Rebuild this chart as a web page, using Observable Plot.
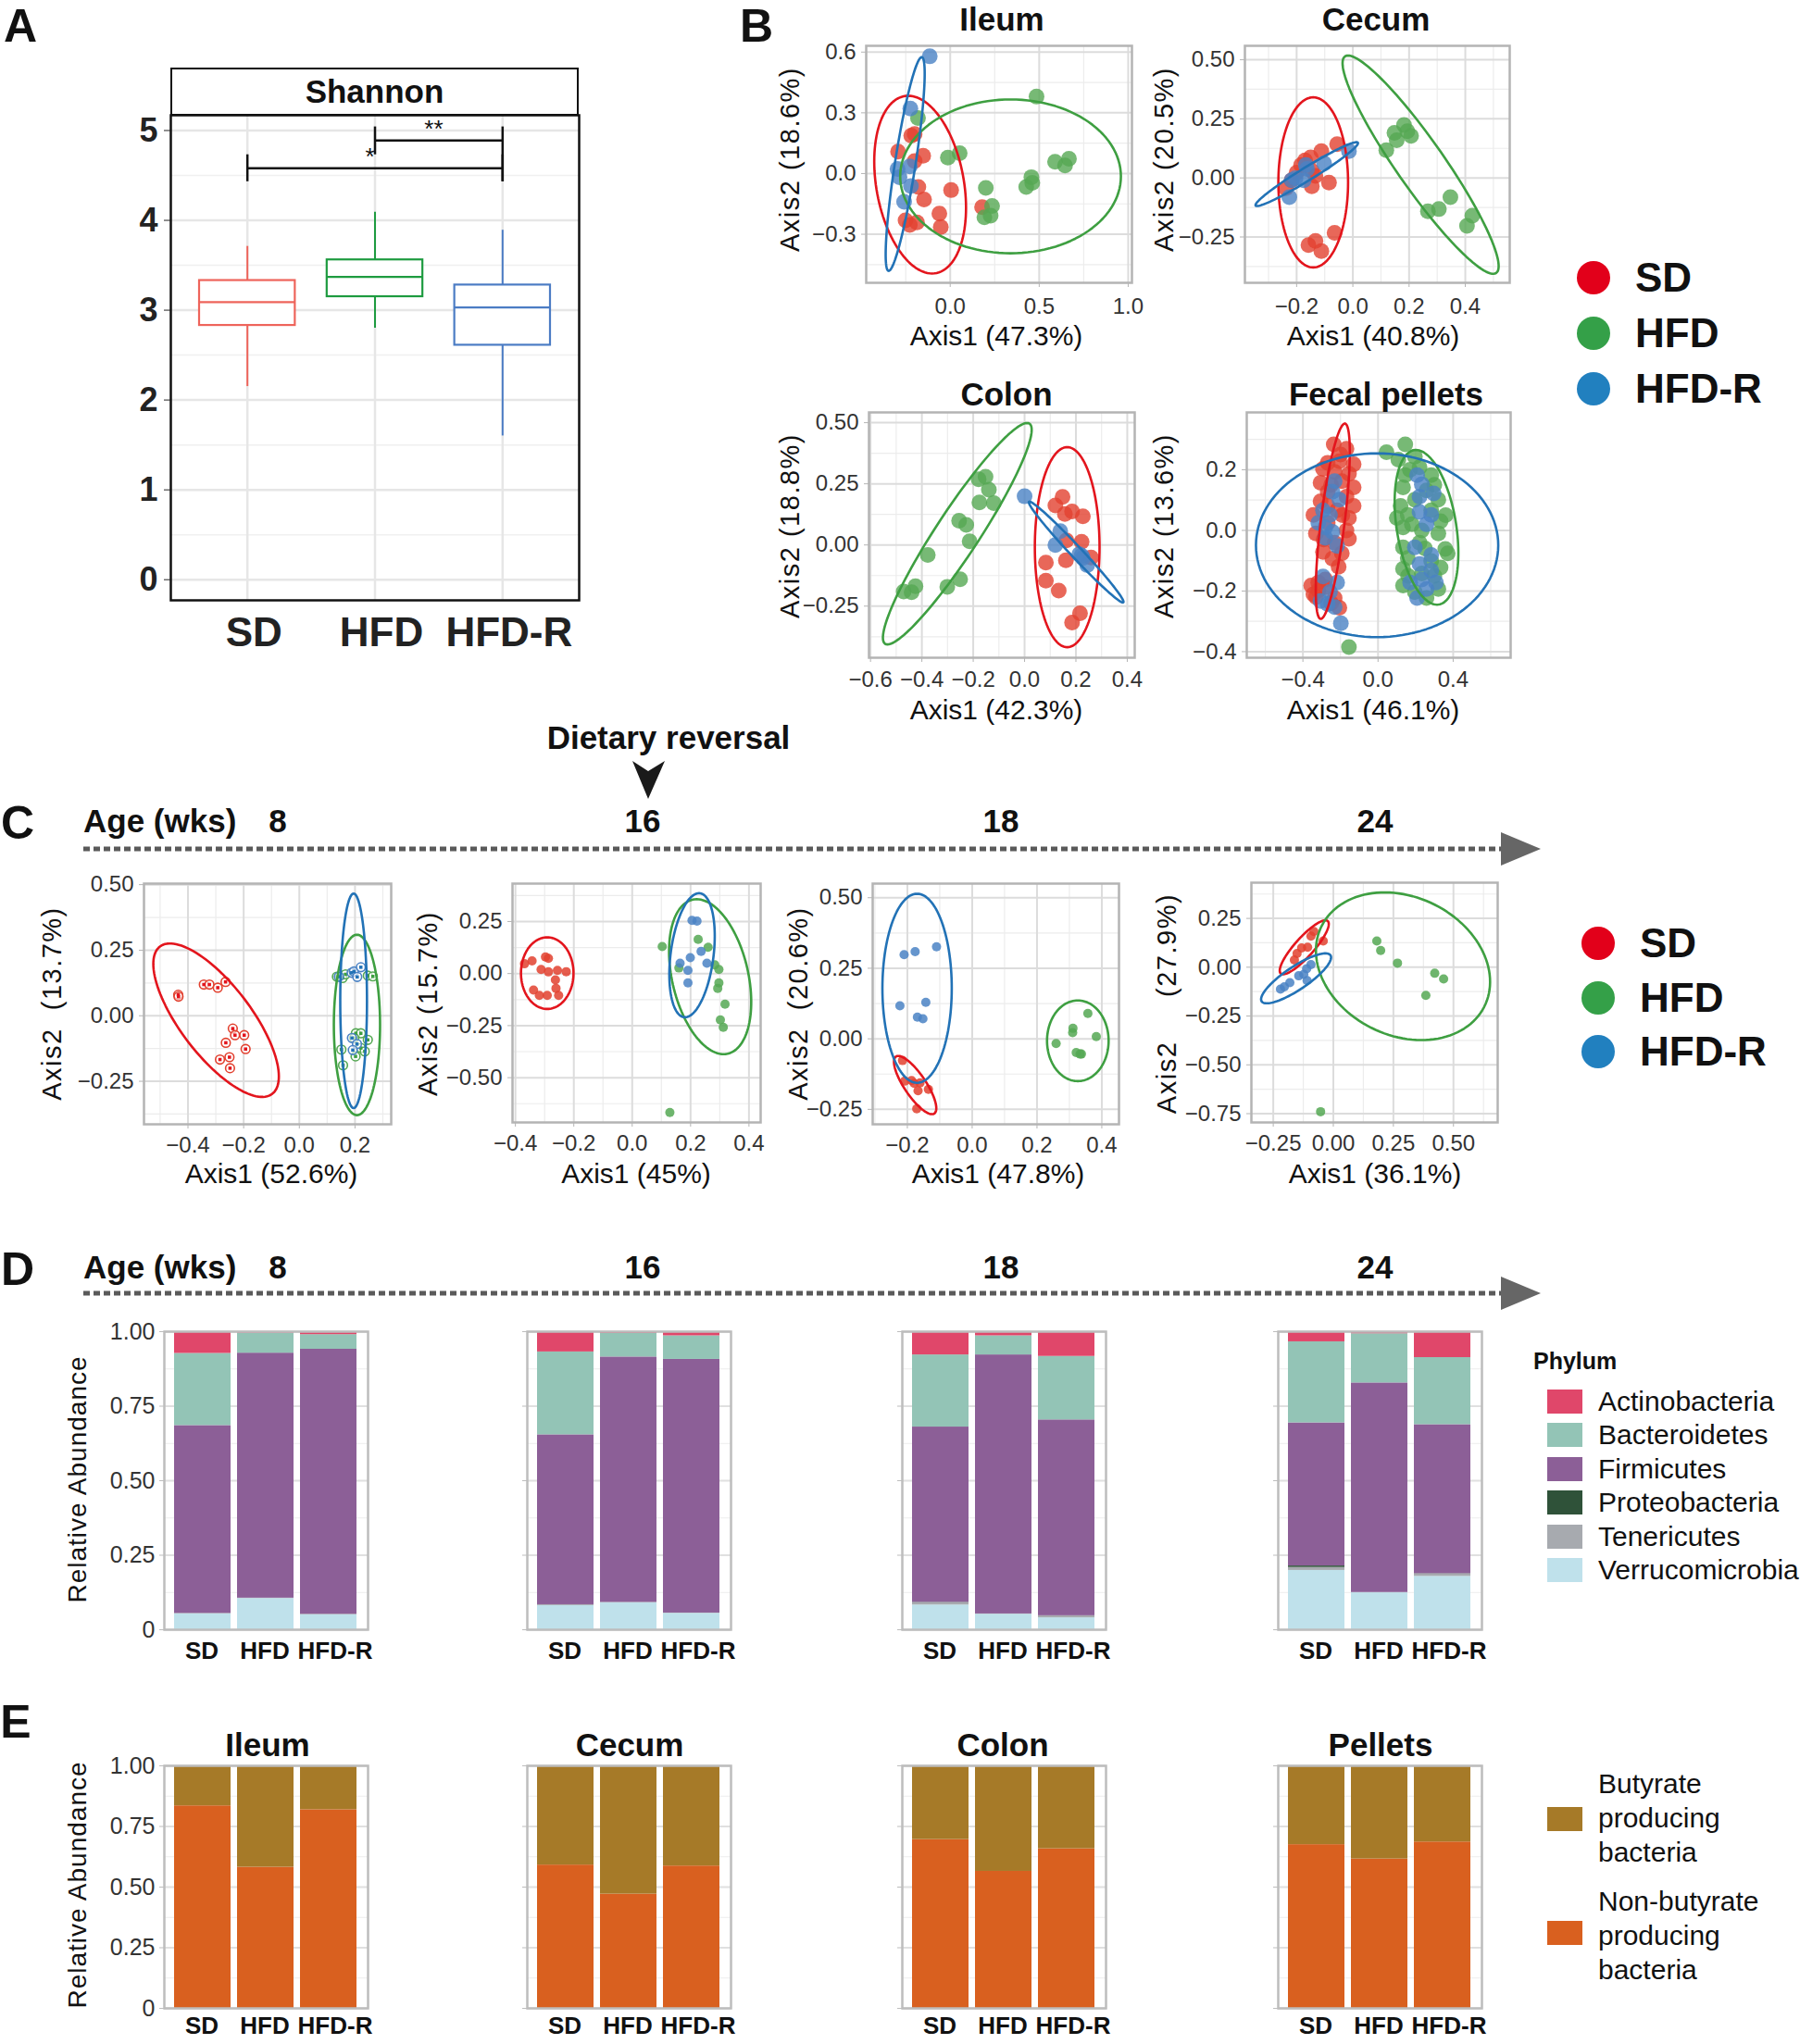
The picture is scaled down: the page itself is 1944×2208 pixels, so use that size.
<!DOCTYPE html>
<html><head><meta charset="utf-8">
<script src="https://cdn.jsdelivr.net/npm/d3@7"></script>
<script src="https://cdn.jsdelivr.net/npm/@observablehq/plot@0.6"></script>
<style>
html,body{margin:0;padding:0;background:#fff;}
#root{position:relative;width:1944px;height:2208px;overflow:hidden;background:#fff;font-family:"Liberation Sans",Arial,Helvetica,sans-serif;color:#111;}
.t{position:absolute;white-space:pre;line-height:1;}
</style></head><body><div id="root"></div>
<script>
// ---------------- DATA ----------------
const diets = ["SD", "HFD", "HFD-R"];

// Panel A: Shannon diversity boxplot
const shannonMin    = [2.15, 2.80, 1.60];
const shannonQ1     = [2.83, 3.15, 2.61];
const shannonMedian = [3.09, 3.37, 3.03];
const shannonQ3     = [3.33, 3.56, 3.28];
const shannonMax    = [3.71, 4.09, 3.89];
const sigFrom   = ["HFD", "SD"];
const sigTo     = ["HFD-R", "HFD-R"];
const sigY      = [4.89, 4.58];
const sigTop    = [5.04, 4.73];
const sigLeftBottom  = [4.73, 4.43];
const sigRightBottom = [4.43, 4.43];
const sigLabel  = ["**", "*"];

// Panel B: PCoA by gut site (Axis1, Axis2)
const ileumSD = [[-0.219,0.187],[-0.200,0.195],[-0.293,0.108],[-0.152,0.088],[-0.200,0.062],[-0.179,-0.067],[-0.147,-0.128],[0.005,-0.082],[0.179,-0.166],[-0.061,-0.198],[-0.053,-0.264],[-0.251,-0.231],[-0.227,-0.254],[-0.187,-0.242]];
const ileumHFD = [[-0.181,0.274],[0.485,0.380],[-0.013,0.079],[0.053,0.100],[0.200,-0.071],[0.235,-0.160],[0.192,-0.216],[0.227,-0.208],[0.427,-0.067],[0.461,-0.046],[0.456,-0.018],[0.589,0.058],[0.667,0.073],[0.645,0.040]];
const ileumHFDR = [[-0.115,0.579],[-0.224,0.321],[-0.296,0.023],[-0.285,-0.018],[-0.227,0.035],[-0.221,-0.062],[-0.259,-0.140]];
const ileumEllipses = [
  {group:"SD", cx:-0.169, cy:-0.055, ax:-0.067, ay:0.439, bx:0.249, by:0},
  {group:"HFD", cx:0.339, cy:-0.014, ax:0, ay:0.380, bx:0.62, by:0},
  {group:"HFD-R", cx:-0.253, cy:0.047, ax:0.093, ay:0.528, bx:0.058, by:-0.003}];

const cecumSD = [[-0.238,-0.043],[-0.218,-0.010],[-0.184,0.055],[-0.170,0.074],[-0.150,0.087],[-0.112,0.113],[-0.056,0.143],[-0.145,0.029],[-0.133,0.009],[-0.146,-0.036],[-0.085,-0.020],[-0.158,-0.284],[-0.133,-0.267],[-0.112,-0.310],[-0.065,-0.232],[-0.200,0.022]];
const cecumHFD = [[0.119,0.117],[0.156,0.159],[0.148,0.191],[0.182,0.224],[0.194,0.198],[0.207,0.178],[0.347,-0.082],[0.306,-0.132],[0.267,-0.141],[0.425,-0.160],[0.406,-0.203]];
const cecumHFDR = [[-0.218,-0.010],[-0.204,-0.001],[-0.226,-0.082],[-0.163,0.038],[-0.102,0.061],[-0.014,0.113],[-0.167,0.055],[-0.175,-0.010]];
const cecumEllipses = [
  {group:"SD", cx:-0.141, cy:-0.019, ax:0, ay:0.360, bx:0.124, by:0},
  {group:"HFD", cx:0.241, cy:0.056, ax:-0.264, ay:0.461, bx:0.086, by:0.029},
  {group:"HFD-R", cx:-0.164, cy:0.016, ax:0.181, ay:0.134, bx:0.021, by:-0.017}];

const colonSD = [[0.148,0.197],[0.120,0.162],[0.157,0.127],[0.185,0.137],[0.227,0.117],[0.222,0.013],[0.163,0.019],[0.259,-0.051],[0.083,-0.072],[0.161,-0.063],[0.083,-0.146],[0.133,-0.187],[0.216,-0.279],[0.185,-0.317]];
const colonHFD = [[-0.179,0.269],[-0.152,0.279],[-0.139,0.226],[-0.176,0.174],[-0.120,0.171],[-0.255,0.099],[-0.227,0.082],[-0.214,0.015],[-0.377,-0.041],[-0.251,-0.140],[-0.301,-0.171],[-0.425,-0.169],[-0.471,-0.190],[-0.440,-0.193]];
const colonHFDR = [[0.000,0.199],[0.139,0.057],[0.120,0.000],[0.213,-0.038],[0.227,-0.053],[0.244,-0.082],[0.222,-0.044]];
const colonEllipses = [
  {group:"SD", cx:0.166, cy:-0.009, ax:0, ay:0.409, bx:0.126, by:0},
  {group:"HFD", cx:-0.262, cy:0.046, ax:0.277, ay:0.452, bx:0.085, by:-0.025},
  {group:"HFD-R", cx:0.201, cy:-0.029, ax:0.183, ay:-0.206, bx:0.022, by:0.009}];

const fecalSD = [[-0.236,0.284],[-0.168,0.269],[-0.268,0.223],[-0.206,0.228],[-0.130,0.218],[-0.293,0.203],[-0.231,0.193],[-0.155,0.187],[-0.306,0.157],[-0.193,0.162],[-0.130,0.142],[-0.268,0.127],[-0.168,0.111],[-0.306,0.096],[-0.130,0.081],[-0.218,0.066],[-0.344,0.051],[-0.155,0.041],[-0.268,0.025],[-0.331,-0.010],[-0.155,-0.028],[-0.231,-0.041],[-0.293,-0.071],[-0.193,-0.076],[-0.243,-0.093],[-0.356,-0.182],[-0.318,-0.198],[-0.344,-0.211],[-0.281,-0.187],[-0.231,-0.223],[-0.206,-0.255],[-0.281,-0.162],[-0.318,-0.172],[-0.168,0.000],[-0.268,0.081],[-0.200,0.250],[-0.250,0.150],[-0.190,0.050],[-0.290,-0.030],[-0.210,-0.120],[-0.330,-0.220],[-0.250,-0.240]];
const fecalHFD = [[0.045,0.258],[0.145,0.284],[0.108,0.233],[0.196,0.243],[0.145,0.182],[0.221,0.208],[0.283,0.182],[0.133,0.142],[0.258,0.132],[0.196,0.101],[0.321,0.101],[0.120,0.081],[0.283,0.066],[0.158,0.051],[0.333,0.030],[0.133,0.010],[0.233,0.000],[0.321,-0.010],[0.133,-0.056],[0.221,-0.041],[0.371,-0.076],[0.158,-0.091],[0.283,-0.101],[0.133,-0.127],[0.233,-0.142],[0.333,-0.122],[0.133,-0.182],[0.196,-0.203],[0.321,-0.193],[0.258,-0.223],[0.358,-0.061],[0.100,0.041],[-0.155,-0.385],[0.170,0.200],[0.300,0.150],[0.180,0.020],[0.360,0.050],[0.250,-0.060],[0.160,-0.150],[0.300,-0.150]];
const fecalHFDR = [[-0.231,0.162],[-0.243,0.127],[-0.206,0.101],[-0.293,0.066],[-0.256,0.051],[-0.318,0.025],[-0.281,0.010],[-0.243,-0.005],[-0.281,-0.025],[-0.218,-0.051],[-0.293,-0.152],[-0.218,-0.172],[-0.256,-0.203],[-0.306,-0.233],[-0.231,-0.253],[-0.198,-0.306],[-0.268,-0.243],[0.208,0.182],[0.233,0.152],[0.221,0.111],[0.296,0.122],[0.221,0.061],[0.283,0.051],[0.258,0.020],[0.196,-0.056],[0.283,-0.081],[0.221,-0.111],[0.283,-0.132],[0.233,-0.162],[0.308,-0.172],[0.258,-0.193],[0.208,-0.223],[0.171,-0.172]];
const fecalEllipses = [
  {group:"SD", cx:-0.241, cy:0.030, ax:0.065, ay:0.322, bx:0.063, by:-0.005},
  {group:"HFD", cx:0.258, cy:0.010, ax:-0.056, ay:0.255, bx:0.160, by:0},
  {group:"HFD-R", cx:-0.005, cy:-0.049, ax:0, ay:0.303, bx:0.645, by:0}];

// Panel C: PCoA over age (8, 16, 18, 24 wks)
const ages = [8, 16, 18, 24];
const wk8SD = [[-0.435,0.080],[-0.434,0.073],[-0.343,0.119],[-0.323,0.119],[-0.293,0.107],[-0.265,0.129],[-0.239,-0.049],[-0.231,-0.074],[-0.198,-0.074],[-0.264,-0.103],[-0.193,-0.127],[-0.285,-0.167],[-0.251,-0.158],[-0.249,-0.200]];
const wk8HFD = [[0.135,0.149],[0.155,0.144],[0.166,0.158],[0.246,0.153],[0.264,0.150],[0.203,-0.067],[0.221,-0.067],[0.197,-0.085],[0.246,-0.092],[0.151,-0.129],[0.157,-0.189],[0.221,-0.123],[0.235,-0.136],[0.202,-0.155]];
const wk8HFDR = [[0.142,0.149],[0.188,0.164],[0.196,0.169],[0.208,0.148],[0.221,0.185],[0.189,-0.085],[0.207,-0.108],[0.192,-0.131]];
const wk8Ellipses = [
  {group:"SD", cx:-0.299, cy:-0.017, ax:-0.2016, ay:0.281, bx:0.101, by:0.0817},
  {group:"HFD", cx:0.207, cy:-0.035, ax:0, ay:0.344, bx:0.083, by:0},
  {group:"HFD-R", cx:0.195, cy:0.057, ax:0, ay:0.409, bx:0.048, by:0}];

const wk16SD = [[-0.369,0.047],[-0.343,0.061],[-0.297,0.080],[-0.287,0.073],[-0.312,0.020],[-0.287,0.008],[-0.256,0.015],[-0.226,0.009],[-0.263,-0.030],[-0.261,-0.071],[-0.338,-0.079],[-0.318,-0.105],[-0.291,-0.105],[-0.252,-0.105]];
const wk16HFD = [[0.103,0.130],[0.226,0.164],[0.260,0.126],[0.160,0.027],[0.283,0.042],[0.297,0.020],[0.297,-0.045],[0.293,-0.071],[0.318,-0.147],[0.302,-0.223],[0.312,-0.258],[0.129,-0.667]];
const wk16HFDR = [[0.205,0.255],[0.222,0.252],[0.236,0.106],[0.199,0.076],[0.164,0.050],[0.256,0.050],[0.191,0.015],[0.191,-0.045]];
const wk16Ellipses = [
  {group:"SD", cx:-0.291, cy:0.002, ax:0, ay:0.172, bx:0.090, by:0},
  {group:"HFD", cx:0.267, cy:-0.015, ax:-0.046, ay:0.372, bx:0.133, by:0},
  {group:"HFD-R", cx:0.205, cy:0.088, ax:0.024, ay:0.298, bx:0.074, by:0}];

const wk18SD = [[-0.215,-0.077],[-0.208,-0.150],[-0.187,-0.148],[-0.179,-0.158],[-0.161,-0.156],[-0.167,-0.184],[-0.135,-0.179],[-0.171,-0.248]];
const wk18HFD = [[0.259,-0.017],[0.311,0.037],[0.310,0.022],[0.357,0.090],[0.383,0.008],[0.321,-0.049],[0.337,-0.054],[0.333,-0.054]];
const wk18HFDR = [[-0.210,0.298],[-0.176,0.309],[-0.110,0.326],[-0.223,0.117],[-0.143,0.129],[-0.169,0.077],[-0.152,0.071]];
const wk18Ellipses = [
  {group:"SD", cx:-0.176, cy:-0.164, ax:0.059, ay:-0.101, bx:0.028, by:0.021},
  {group:"HFD", cx:0.326, cy:-0.007, ax:0, ay:0.143, bx:0.095, by:0},
  {group:"HFD-R", cx:-0.170, cy:0.179, ax:0, ay:0.335, bx:0.107, by:0}];

const wk24SD = [[-0.081,0.183],[-0.093,0.159],[-0.042,0.134],[-0.132,0.099],[-0.107,0.102],[-0.151,0.070],[-0.162,0.037]];
const wk24HFD = [[0.181,0.134],[0.197,0.086],[0.267,0.021],[0.422,-0.031],[0.459,-0.060],[0.385,-0.144],[-0.053,-0.740]];
const wk24HFDR = [[-0.093,0.013],[-0.111,-0.008],[-0.123,-0.036],[-0.109,-0.068],[-0.181,-0.079],[-0.204,-0.100],[-0.220,-0.112],[-0.144,-0.044]];
const wk24Ellipses = [
  {group:"SD", cx:-0.121, cy:0.102, ax:0.093, ay:0.1375, bx:0.042, by:-0.014},
  {group:"HFD", cx:0.290, cy:0.005, ax:-0.128, ay:0.374, bx:0.339, by:0.056},
  {group:"HFD-R", cx:-0.155, cy:-0.057, ax:0.136, ay:0.125, bx:0.052, by:-0.027}];

// Panel D: phylum relative abundance, order: 8wk SD,HFD,HFD-R, 16wk ..., 18wk ..., 24wk ...
const phyla = ["Actinobacteria","Bacteroidetes","Firmicutes","Proteobacteria","Tenericutes","Verrucomicrobia"];
const phylumColors = ["#E0476A","#93C4B6","#8C5F97","#2F5239","#A7AAAF","#BFE1EB"];
const actinobacteria  = [0.073,0.005,0.010, 0.068,0.006,0.014, 0.078,0.014,0.083, 0.034,0.007,0.0875];
const bacteroidetes   = [0.242,0.067,0.049, 0.278,0.079,0.079, 0.242,0.064,0.213, 0.272,0.165,0.225];
const firmicutes      = [0.630,0.822,0.889, 0.570,0.823,0.851, 0.588,0.869,0.657, 0.480,0.703,0.500];
const proteobacteria  = [0.000,0.000,0.000, 0.000,0.000,0.000, 0.001,0.000,0.000, 0.005,0.000,0.001];
const tenericutes     = [0.002,0.001,0.002, 0.003,0.002,0.001, 0.008,0.001,0.007, 0.010,0.001,0.008];
const verrucomicrobia = [0.053,0.105,0.050, 0.081,0.090,0.055, 0.083,0.052,0.040, 0.199,0.124,0.179];

// Panel E: butyrate producers, order: Ileum SD,HFD,HFD-R, Cecum ..., Colon ..., Pellets ...
const tissues = ["Ileum","Cecum","Colon","Pellets"];
const butyrateCats = ["Butyrate producing bacteria","Non-butyrate producing bacteria"];
const butyrateColors = ["#A67A28","#D9601F"];
const nonButyrateProducers = [0.835,0.582,0.819, 0.591,0.471,0.587, 0.696,0.565,0.658, 0.675,0.616,0.686];
const butyrateProducers    = [0.165,0.418,0.181, 0.409,0.529,0.413, 0.304,0.435,0.342, 0.325,0.384,0.314];

// ---------------- HELPERS ----------------
const root = document.getElementById("root");
const SANS = '"Liberation Sans", Arial, Helvetica, sans-serif';
const ELL = {"SD":"#E3151D", "HFD":"#3E9F41", "HFD-R":"#2272B6"};
const PT  = {"SD":"#E2412F", "HFD":"#55A853", "HFD-R":"#4A82C4"};
const BOX = {"SD":"#EE645B", "HFD":"#1E9B40", "HFD-R":"#4B7CC4"};
const LEG = {"SD":"#E2001A", "HFD":"#34A048", "HFD-R":"#2180BF"};

function txt(s, x, y, o = {}) {
  const d = document.createElement("div");
  d.className = "t";
  d.textContent = s;
  d.style.left = x + "px"; d.style.top = y + "px";
  d.style.fontSize = (o.size || 30) + "px";
  d.style.fontWeight = o.bold ? "700" : "400";
  d.style.color = o.color || "#111";
  if (o.ls) d.style.letterSpacing = o.ls + "px";
  const ax = o.ax ?? 0.5, ay = o.ay ?? 0.5;
  d.style.transform = `translate(${-ax * 100}%, ${-ay * 100}%)` + (o.rot ? ` rotate(${o.rot}deg)` : "");
  root.appendChild(d);
  return d;
}
function put(node, left, top) {
  node.style.position = "absolute";
  node.style.left = left + "px";
  node.style.top = top + "px";
  node.style.maxWidth = "none";
  root.appendChild(node);
}
function ellipsePath(e) {
  return d3.range(0, 121).map(i => {
    const t = 2 * Math.PI * i / 120;
    return {x: e.cx + e.ax * Math.cos(t) + e.bx * Math.sin(t), y: e.cy + e.ay * Math.cos(t) + e.by * Math.sin(t)};
  });
}
const f1 = d3.format(".1f"), f2 = d3.format(".2f");

function pcoa(p) {
  const m = {l: 80, r: 14, t: 12, b: 50};
  const marks = [
    Plot.gridX(p.xMinor, {stroke: "#ececec", strokeOpacity: 1, strokeWidth: 1.2}),
    Plot.gridY(p.yMinor, {stroke: "#ececec", strokeOpacity: 1, strokeWidth: 1.2}),
    Plot.gridX(p.xTicks, {stroke: "#dcdcdc", strokeOpacity: 1, strokeWidth: 2}),
    Plot.gridY(p.yTicks, {stroke: "#dcdcdc", strokeOpacity: 1, strokeWidth: 2})
  ];
  diets.forEach((g, i) => {
    const pts = p.pts[i];
    if (p.ring) {
      marks.push(Plot.dot(pts, {x: d => d[0], y: d => d[1], r: 4.8, stroke: PT[g], strokeWidth: 1.6, fill: "white", fillOpacity: 0.6}));
      marks.push(Plot.dot(pts, {x: d => d[0], y: d => d[1], r: 2, symbol: "square", fill: ELL[g]}));
    } else {
      marks.push(Plot.dot(pts, {x: d => d[0], y: d => d[1], r: p.r, fill: PT[g], fillOpacity: p.op}));
    }
  });
  p.ell.forEach(e => marks.push(Plot.line(ellipsePath(e), {x: "x", y: "y", stroke: ELL[e.group], strokeWidth: 2.6})));
  marks.push(Plot.frame({stroke: "#b4b4b4", strokeWidth: 2.5}));
  marks.push(Plot.axisX(p.xTicks, {tickFormat: p.xf, tickSize: 5, tickPadding: p.xpad, fontSize: 24, stroke: "#b4b4b4", fill: "#333"}));
  marks.push(Plot.axisY(p.yTicks, {tickFormat: p.yf, tickSize: 5, tickPadding: 6, fontSize: 24, stroke: "#b4b4b4", fill: "#333"}));
  const svg = Plot.plot({
    width: p.W + m.l + m.r, height: p.H + m.t + m.b,
    marginLeft: m.l, marginRight: m.r, marginTop: m.t, marginBottom: m.b,
    x: {domain: p.xd, label: null}, y: {domain: p.yd, label: null},
    style: {background: "transparent", fontFamily: SANS, overflow: "visible"},
    marks
  });
  put(svg, p.L - m.l, p.T - m.t);
}

function bars(rows, cats, colors, L, T, W, H, showY, xpad) {
  const m = {l: 75, r: 8, t: 8, b: 42};
  const yt = [0, 0.25, 0.5, 0.75, 1];
  const xOpts = {tickSize: 0, tickPadding: xpad, fontSize: 26, fontWeight: "bold", fill: "#111"};
  const svg = Plot.plot({
    width: W + m.l + m.r, height: H + m.t + m.b,
    marginLeft: m.l, marginRight: m.r, marginTop: m.t, marginBottom: m.b,
    x: {type: "band", domain: diets, paddingInner: 0.1, paddingOuter: 0.15, label: null},
    y: {domain: [0, 1], label: null},
    color: {domain: cats, range: colors},
    style: {background: "transparent", fontFamily: SANS, overflow: "visible"},
    marks: [
      Plot.gridY([0.125, 0.375, 0.625, 0.875], {stroke: "#ededed", strokeOpacity: 1, strokeWidth: 1.2}),
      Plot.gridY(yt, {stroke: "#e0e0e0", strokeOpacity: 1, strokeWidth: 2}),
      Plot.barY(rows, {x: "diet", y: "value", fill: "cat"}),
      Plot.frame({stroke: "#bdbdbd", strokeWidth: 2.5}),
      Plot.axisY(yt, {tickFormat: showY ? (d => d === 0 ? "0" : f2(d)) : (() => ""), tickSize: 5, tickPadding: 5, fontSize: 25, stroke: "#bdbdbd", fill: "#333"}),
      Plot.axisX(diets.slice(0, 2), {...xOpts, dx: -1}),
      Plot.axisX(diets.slice(2), {...xOpts, dx: 7})
    ]
  });
  put(svg, L - m.l, T - m.t);
}

// ---------------- DECORATION ----------------
const deco = d3.create("svg").attr("width", 1944).attr("height", 2208)
  .style("position", "absolute").style("left", "0px").style("top", "0px");
[917, 1397].forEach(y => {
  deco.append("line").attr("x1", 90).attr("x2", 1624).attr("y1", y).attr("y2", y)
    .attr("stroke", "#5a5a5a").attr("stroke-width", 5).attr("stroke-dasharray", "7 4");
  deco.append("path").attr("d", `M1621,${y - 18}L1664,${y}L1621,${y + 18}Z`).attr("fill", "#666");
});
deco.append("path").attr("d", "M683,822L700,833L718,822L700,863Z").attr("fill", "#1a1a1a");
root.appendChild(deco.node());

// ---------------- PANEL A ----------------
txt("A", 22, 28, {size: 50, bold: true});
const strip = document.createElement("div");
Object.assign(strip.style, {position: "absolute", left: "184px", top: "73px", width: "441px", height: "52px",
  boxSizing: "border-box", border: "2.5px solid #111", display: "flex", alignItems: "center", justifyContent: "center",
  fontSize: "35px", fontWeight: "700"});
strip.textContent = "Shannon";
root.appendChild(strip);
{
  const pos = g => diets.indexOf(g) + 1;
  const boxRows = diets.map((g, i) => ({g, pos: i + 1, min: shannonMin[i], q1: shannonQ1[i], med: shannonMedian[i], q3: shannonQ3[i], max: shannonMax[i]}));
  const sig = sigLabel.map((s, i) => ({from: sigFrom[i], to: sigTo[i], y: sigY[i], top: sigTop[i], lb: sigLeftBottom[i], rb: sigRightBottom[i], label: s}));
  const marks = [
    Plot.gridY([0.5, 1.5, 2.5, 3.5, 4.5], {stroke: "#f0f0f0", strokeOpacity: 1, strokeWidth: 1.5}),
    Plot.gridY([0, 1, 2, 3, 4, 5], {stroke: "#e6e6e6", strokeOpacity: 1, strokeWidth: 2.5}),
    Plot.gridX([1, 2, 3], {stroke: "#e6e6e6", strokeOpacity: 1, strokeWidth: 2.5})
  ];
  diets.forEach(g => {
    const rows = boxRows.filter(d => d.g === g);
    marks.push(Plot.ruleX(rows, {x: "pos", y1: "min", y2: "max", stroke: BOX[g], strokeWidth: 2}));
    marks.push(Plot.rect(rows, {x1: d => d.pos - 0.375, x2: d => d.pos + 0.375, y1: "q1", y2: "q3", fill: "white", stroke: BOX[g], strokeWidth: 2.2}));
    marks.push(Plot.ruleY(rows, {y: "med", x1: d => d.pos - 0.375, x2: d => d.pos + 0.375, stroke: BOX[g], strokeWidth: 2.2}));
  });
  marks.push(
    Plot.ruleY(sig, {y: "y", x1: d => pos(d.from), x2: d => pos(d.to), stroke: "#111", strokeWidth: 2.5}),
    Plot.ruleX(sig, {x: d => pos(d.from), y1: "top", y2: "lb", stroke: "#111", strokeWidth: 2.5}),
    Plot.ruleX(sig, {x: d => pos(d.to), y1: "top", y2: "rb", stroke: "#111", strokeWidth: 2.5}),
    Plot.text(sig, {x: d => (pos(d.from) + pos(d.to)) / 2 - 0.04, y: "y", text: "label", dy: -4, lineAnchor: "bottom", fontSize: 26, fill: "#111"}),
    Plot.frame({stroke: "#111", strokeWidth: 2.5}),
    Plot.axisY([0, 1, 2, 3, 4, 5], {tickFormat: d => String(d), tickSize: 7, tickPadding: 7, fontSize: 36, fontWeight: "bold", fill: "#222", stroke: "#222"}),
    Plot.axisX([1, 2, 3], {tickFormat: d => diets[d - 1], tickSize: 0, tickPadding: 18, dx: 7, fontSize: 44, fontWeight: "bold", fill: "#222"})
  );
  const m = {l: 100, r: 12, t: 10, b: 85};
  const svg = Plot.plot({
    width: 441 + m.l + m.r, height: 524 + m.t + m.b,
    marginLeft: m.l, marginRight: m.r, marginTop: m.t, marginBottom: m.b,
    x: {domain: [0.4, 3.6], label: null}, y: {domain: [-0.23, 5.17], label: null},
    style: {background: "transparent", fontFamily: SANS, overflow: "visible"},
    marks
  });
  put(svg, 184 - m.l, 124 - m.t);
}

// ---------------- PANEL B ----------------
txt("B", 817, 28, {size: 50, bold: true});
pcoa({L: 935, T: 49, W: 287, H: 256, xd: [-0.472, 1.021], yd: [-0.540, 0.631],
  xTicks: [0, 0.5, 1], yTicks: [-0.3, 0, 0.3, 0.6], xMinor: [-0.25, 0.25, 0.75], yMinor: [-0.45, -0.15, 0.15, 0.45],
  xf: f1, yf: f1, xpad: 11, pts: [ileumSD, ileumHFD, ileumHFDR], ell: ileumEllipses, r: 8.5, op: 0.8});
pcoa({L: 1344, T: 49, W: 286, H: 256, xd: [-0.384, 0.558], yd: [-0.444, 0.559],
  xTicks: [-0.2, 0, 0.2, 0.4], yTicks: [-0.25, 0, 0.25, 0.5], xMinor: [-0.3, -0.1, 0.1, 0.3, 0.5], yMinor: [-0.375, -0.125, 0.125, 0.375],
  xf: f1, yf: f2, xpad: 11, pts: [cecumSD, cecumHFD, cecumHFDR], ell: cecumEllipses, r: 8.5, op: 0.8});
pcoa({L: 938, T: 445, W: 287, H: 265, xd: [-0.606, 0.429], yd: [-0.461, 0.542],
  xTicks: [-0.6, -0.4, -0.2, 0, 0.2, 0.4], yTicks: [-0.25, 0, 0.25, 0.5], xMinor: [-0.5, -0.3, -0.1, 0.1, 0.3], yMinor: [-0.375, -0.125, 0.125, 0.375],
  xf: f1, yf: f2, xpad: 9, pts: [colonSD, colonHFD, colonHFDR], ell: colonEllipses, r: 8.5, op: 0.8});
pcoa({L: 1346, T: 445, W: 285, H: 265, xd: [-0.699, 0.706], yd: [-0.420, 0.389],
  xTicks: [-0.4, 0, 0.4], yTicks: [-0.4, -0.2, 0, 0.2], xMinor: [-0.6, -0.2, 0.2, 0.6], yMinor: [-0.3, -0.1, 0.1, 0.3],
  xf: f1, yf: f1, xpad: 9, pts: [fecalSD, fecalHFD, fecalHFDR], ell: fecalEllipses, r: 8.5, op: 0.8});
txt("Ileum", 1082, 20, {size: 35, bold: true});
txt("Cecum", 1486, 20, {size: 35, bold: true});
txt("Colon", 1087, 425, {size: 35, bold: true});
txt("Fecal pellets", 1497, 425, {size: 35, bold: true});
txt("Axis1 (47.3%)", 1076, 363, {size: 30});
txt("Axis1 (40.8%)", 1483, 363, {size: 30});
txt("Axis1 (42.3%)", 1076, 767, {size: 30});
txt("Axis1 (46.1%)", 1483, 767, {size: 30});
txt("Axis2 (18.6%)", 853, 172, {size: 29, ls: 1.5, rot: -90});
txt("Axis2 (20.5%)", 1257, 172, {size: 29, ls: 1.5, rot: -90});
txt("Axis2 (18.8%)", 853, 568, {size: 29, ls: 1.5, rot: -90});
txt("Axis2 (13.6%)", 1257, 568, {size: 29, ls: 1.5, rot: -90});
function dotLegend(cx, lx, ys) {
  diets.forEach((g, i) => {
    const c = document.createElement("div");
    Object.assign(c.style, {position: "absolute", left: (cx - 18) + "px", top: (ys[i] - 18) + "px", width: "36px", height: "36px", borderRadius: "50%", background: LEG[g]});
    root.appendChild(c);
    txt(g, lx, ys[i], {size: 44, bold: true, ax: 0});
  });
}
dotLegend(1721, 1766, [300, 360, 420]);

// ---------------- PANEL C ----------------
txt("C", 19, 889, {size: 50, bold: true});
txt("Dietary reversal", 722, 796, {size: 35, bold: true});
function ageHeader(y) {
  txt("Age (wks)", 90, y, {size: 35, bold: true, ax: 0});
  const xs = [300, 694, 1081, 1485];
  ages.forEach((a, i) => txt(String(a), xs[i], y, {size: 35, bold: true}));
}
ageHeader(886);
pcoa({L: 155, T: 954, W: 267, H: 260, xd: [-0.558, 0.330], yd: [-0.414, 0.504],
  xTicks: [-0.4, -0.2, 0, 0.2], yTicks: [-0.25, 0, 0.25, 0.5], xMinor: [-0.5, -0.3, -0.1, 0.1, 0.3], yMinor: [-0.375, -0.125, 0.125, 0.375],
  xf: f1, yf: f2, xpad: 8, pts: [wk8SD, wk8HFD, wk8HFDR], ell: wk8Ellipses, ring: true});
pcoa({L: 553, T: 954, W: 268, H: 258, xd: [-0.41, 0.44], yd: [-0.715, 0.432],
  xTicks: [-0.4, -0.2, 0, 0.2, 0.4], yTicks: [-0.5, -0.25, 0, 0.25], xMinor: [-0.3, -0.1, 0.1, 0.3], yMinor: [-0.625, -0.375, -0.125, 0.125, 0.375],
  xf: f1, yf: f2, xpad: 8, pts: [wk16SD, wk16HFD, wk16HFDR], ell: wk16Ellipses, r: 5, op: 0.85});
pcoa({L: 942, T: 954, W: 266, H: 260, xd: [-0.307, 0.453], yd: [-0.303, 0.55],
  xTicks: [-0.2, 0, 0.2, 0.4], yTicks: [-0.25, 0, 0.25, 0.5], xMinor: [-0.3, -0.1, 0.1, 0.3], yMinor: [-0.125, 0.125, 0.375],
  xf: f1, yf: f2, xpad: 8, pts: [wk18SD, wk18HFD, wk18HFDR], ell: wk18Ellipses, r: 5, op: 0.85});
pcoa({L: 1351, T: 953, W: 266, H: 259, xd: [-0.341, 0.684], yd: [-0.795, 0.433],
  xTicks: [-0.25, 0, 0.25, 0.5], yTicks: [-0.75, -0.5, -0.25, 0, 0.25], xMinor: [-0.125, 0.125, 0.375, 0.625], yMinor: [-0.625, -0.375, -0.125, 0.125, 0.375],
  xf: f2, yf: f2, xpad: 8, pts: [wk24SD, wk24HFD, wk24HFDR], ell: wk24Ellipses, r: 5, op: 0.85});
txt("Axis1 (52.6%)", 293, 1268, {size: 30});
txt("Axis1 (45%)", 687, 1268, {size: 30});
txt("Axis1 (47.8%)", 1078, 1268, {size: 30});
txt("Axis1 (36.1%)", 1485, 1268, {size: 30});
txt("Axis2  (13.7%)", 56, 1084, {size: 29, ls: 1.5, rot: -90});
txt("Axis2 (15.7%)", 462, 1084, {size: 29, ls: 1.5, rot: -90});
txt("Axis2  (20.6%)", 862, 1084, {size: 29, ls: 1.5, rot: -90});
txt("Axis2     (27.9%)", 1260, 1084, {size: 29, ls: 1.5, rot: -90});
dotLegend(1726, 1771, [1019, 1078, 1136]);

// ---------------- PANEL D ----------------
txt("D", 19, 1371, {size: 50, bold: true});
ageHeader(1368);
const stackOrder = [["Verrucomicrobia", verrucomicrobia], ["Tenericutes", tenericutes], ["Proteobacteria", proteobacteria],
  ["Firmicutes", firmicutes], ["Bacteroidetes", bacteroidetes], ["Actinobacteria", actinobacteria]];
const panelLefts = [177, 569, 974, 1380];
ages.forEach((a, ai) => {
  const rows = [];
  diets.forEach((g, j) => stackOrder.forEach(([name, arr]) => rows.push({diet: g, cat: name, value: arr[ai * 3 + j]})));
  bars(rows, phyla, phylumColors, panelLefts[ai], 1438, 220, 322, ai === 0, 13);
});
txt("Relative Abundance", 84, 1598, {size: 28, ls: 1, rot: -90});
txt("Phylum", 1656, 1470, {size: 25, bold: true, ax: 0});
const dLegY = [1514, 1550, 1587, 1623, 1660, 1696];
phyla.forEach((p, i) => {
  const s = document.createElement("div");
  Object.assign(s.style, {position: "absolute", left: "1671px", top: (dLegY[i] - 13) + "px", width: "38px", height: "26px", background: phylumColors[i]});
  root.appendChild(s);
  txt(p, 1726, dLegY[i], {size: 30, ax: 0});
});

// ---------------- PANEL E ----------------
txt("E", 17, 1860, {size: 50, bold: true});
const eStack = [["Non-butyrate producing bacteria", nonButyrateProducers], ["Butyrate producing bacteria", butyrateProducers]];
const eTitleX = [289, 680, 1083, 1491];
tissues.forEach((t, ti) => {
  const rows = [];
  diets.forEach((g, j) => eStack.forEach(([name, arr]) => rows.push({diet: g, cat: name, value: arr[ti * 3 + j]})));
  bars(rows, butyrateCats, butyrateColors, panelLefts[ti], 1907, 220, 262, ti === 0, 9);
  txt(t, eTitleX[ti], 1884, {size: 35, bold: true});
});
txt("Relative Abundance", 84, 2036, {size: 28, ls: 1, rot: -90});
[[["Butyrate", "producing", "bacteria"], 1965, [1927, 1964, 2001], 0], [["Non-butyrate", "producing", "bacteria"], 2088, [2054, 2091, 2128], 1]]
  .forEach(([lines, sy, ys, ci]) => {
    const s = document.createElement("div");
    Object.assign(s.style, {position: "absolute", left: "1671px", top: (sy - 13) + "px", width: "38px", height: "26px", background: butyrateColors[ci]});
    root.appendChild(s);
    lines.forEach((l, k) => txt(l, 1726, ys[k], {size: 30, ax: 0}));
  });
</script></body></html>
